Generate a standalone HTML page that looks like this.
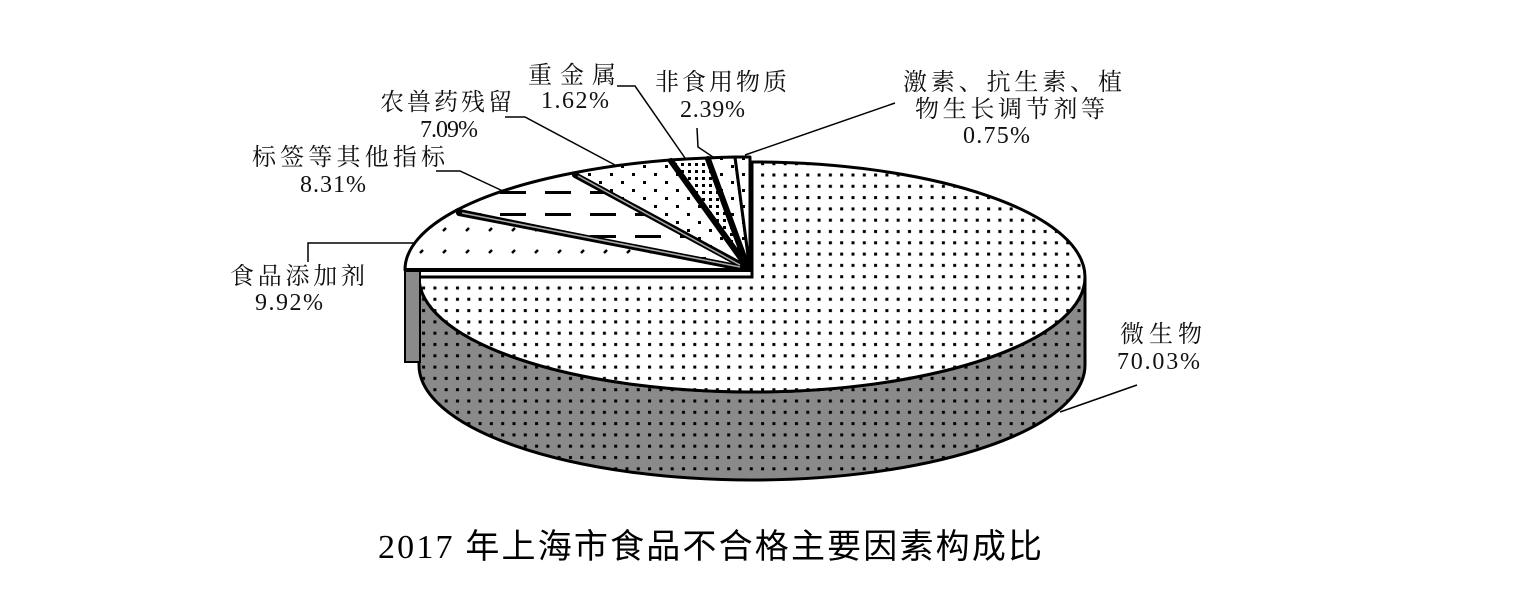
<!DOCTYPE html>
<html><head><meta charset="utf-8"><style>
html,body{margin:0;padding:0;background:#fff;}
svg{display:block;}
.t{font-family:"Liberation Serif","Noto Serif CJK SC",serif;font-size:24px;fill:#111;}
</style></head><body>
<svg width="1525" height="612" viewBox="0 0 1525 612" xmlns="http://www.w3.org/2000/svg">
<defs>
<pattern id="dots" width="11.3" height="11.3" patternUnits="userSpaceOnUse">
<rect width="11.3" height="11.3" fill="#fff"/><rect x="4" y="4" width="3" height="3" fill="#000"/></pattern>
<pattern id="gdots" width="11.3" height="11.3" patternUnits="userSpaceOnUse">
<rect width="11.3" height="11.3" fill="#8a8a8a"/><rect x="4" y="4" width="3" height="3" fill="#000"/></pattern>
<pattern id="sdots" width="22" height="16" patternUnits="userSpaceOnUse">
<rect width="22" height="16" fill="#fff"/><rect x="5" y="5" width="3" height="3" fill="#000"/><rect x="16" y="13" width="3" height="3" fill="#000"/></pattern>
<pattern id="ddots" width="7" height="7" patternUnits="userSpaceOnUse">
<rect width="7" height="7" fill="#fff"/><rect x="2" y="2" width="3" height="3" fill="#000"/></pattern>
<pattern id="slash" width="23" height="22" patternUnits="userSpaceOnUse">
<rect width="23" height="22" fill="#fff"/><path d="M6,11 L9,8" stroke="#000" stroke-width="2.5"/></pattern>
<pattern id="dash" width="45" height="22" patternUnits="userSpaceOnUse" y="5">
<rect width="45" height="22" fill="#fff"/><rect x="5" y="10" width="26" height="3" fill="#000"/></pattern>
</defs>

<!-- microbe side -->
<path d="M419,277 A333,115 0 0,0 1085,277 L1085,365 A333,115 0 0,1 419,365 Z" fill="url(#gdots)" stroke="#000" stroke-width="3"/>
<!-- microbe top -->
<path d="M752,277 L752,162 A333,115 0 1,1 419,277 Z" fill="url(#dots)" stroke="#000" stroke-width="3"/>

<!-- additive side -->
<rect x="405" y="271" width="15" height="91" fill="#8a8a8a" stroke="#000" stroke-width="2"/>

<!-- small slices -->
<g stroke="#000" stroke-width="3" stroke-linejoin="round">
<path d="M750,270 L405,270 A345,113 0 0,1 457,210 Z" fill="url(#slash)"/>
<path d="M750,270 L457,210 A345,113 0 0,1 573,173 Z" fill="url(#dash)"/>
<path d="M750,270 L573,173 A345,113 0 0,1 670,160 Z" fill="url(#sdots)"/>
<path d="M750,270 L670,160 A345,113 0 0,1 707,158 Z" fill="url(#ddots)"/>
<path d="M750,270 L707,158 A345,113 0 0,1 735,157 Z" fill="url(#sdots)"/>
<path d="M750,270 L735,157 A345,113 0 0,1 750,157 Z" fill="url(#sdots)"/>
</g>
<g stroke="#000" stroke-width="6" stroke-linecap="round">
<line x1="747" y1="269" x2="459" y2="213"/>
<line x1="747" y1="268" x2="575" y2="175"/>
<line x1="748" y1="268" x2="671" y2="161"/>
<line x1="748" y1="268" x2="708" y2="159"/>
</g>
<g stroke="#aaa" stroke-width="1.5">
<line x1="740" y1="267" x2="462" y2="213"/>
<line x1="740" y1="265" x2="578" y2="176"/>
</g>
<line x1="405" y1="270" x2="752" y2="270" stroke="#000" stroke-width="4"/>

<!-- leader lines -->
<g stroke="#000" stroke-width="1.5" fill="none">
<polyline points="617,86 635,86 685,158"/>
<polyline points="697,128 698,147 713,157"/>
<polyline points="895,103 745,155"/>
<polyline points="505,117 525,117 615,165"/>
<polyline points="436,171 460,171 505,192"/>
<polyline points="308,262 308,243 415,243"/>
<polyline points="1137,385 1060,412"/>
</g>

<!-- labels -->
<text class="t" x="528" y="83" textLength="88">重金属</text>
<text class="t" x="541" y="108" textLength="68">1.62%</text>
<text class="t" x="655" y="90" textLength="132">非食用物质</text>
<text class="t" x="680" y="117" textLength="65">2.39%</text>
<text class="t" x="903" y="90" textLength="219">激素、抗生素、植</text>
<text class="t" x="915" y="117" textLength="190">物生长调节剂等</text>
<text class="t" x="963" y="143" textLength="67">0.75%</text>
<text class="t" x="380" y="110" textLength="132">农兽药残留</text>
<text class="t" x="420" y="137" textLength="58">7.09%</text>
<text class="t" x="252" y="165" textLength="193">标签等其他指标</text>
<text class="t" x="300" y="192" textLength="66">8.31%</text>
<text class="t" x="230" y="284" textLength="135">食品添加剂</text>
<text class="t" x="255" y="310" textLength="68">9.92%</text>
<text class="t" x="1120" y="342" textLength="82">微生物</text>
<text class="t" x="1117" y="369" textLength="83">70.03%</text>

<text x="378" y="558" textLength="664" style="font-family:'Liberation Serif','Noto Sans CJK SC',sans-serif;font-size:34px;fill:#000">2017 年上海市食品不合格主要因素构成比</text>
</svg>
</body></html>
